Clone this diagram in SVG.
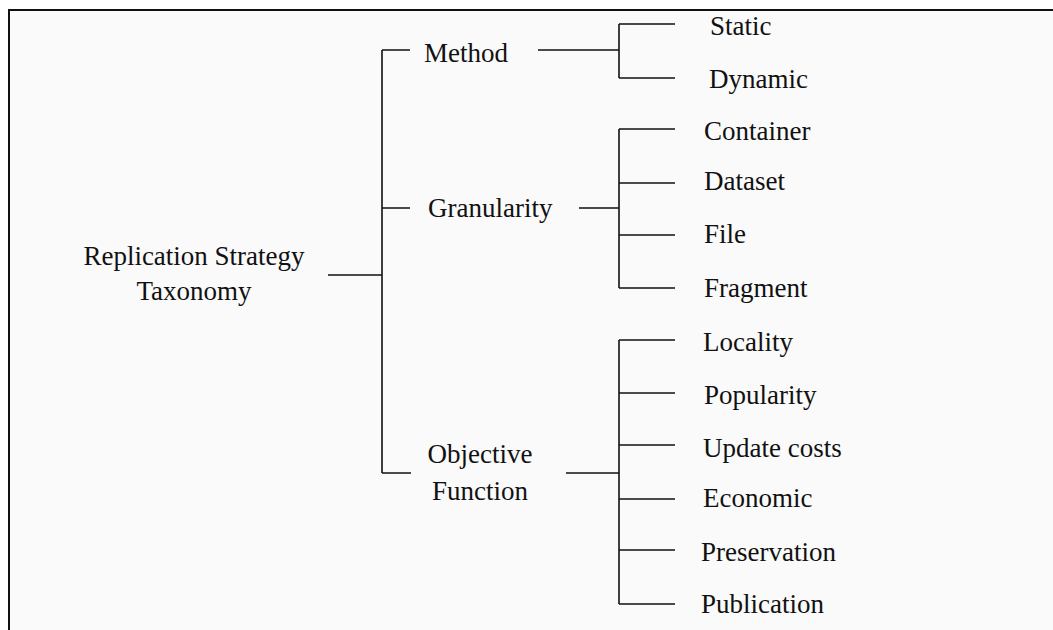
<svg xmlns="http://www.w3.org/2000/svg" width="1053" height="630" viewBox="0 0 1053 630">
  <style>
    .lbl { font-family: "Liberation Serif", "Times New Roman", serif; font-size: 27px; fill: #111; }
    .mid { text-anchor: middle; }
    .ln { stroke: #111; stroke-width: 1.6; fill: none; }
    .frame { stroke: #111; stroke-width: 2; fill: #fafafa; }
  </style>
  <rect width="1053" height="630" fill="#ffffff"/>
  <!-- frame: open on the right and bottom -->
  <rect x="9" y="10" width="1060" height="640" class="frame"/>

  <g id="connectors">
    <!-- root to first level -->
    <path class="ln" d="M328 275 H382 M382 50 V473 M382 50 H410 M382 208 H410 M382 473 H411"/>
    <!-- Method branch -->
    <path class="ln" d="M538 50 H619 M619 24 V78 M619 24 H675 M619 78 H675"/>
    <!-- Granularity branch -->
    <path class="ln" d="M579 208 H619 M619 129 V288 M619 129 H675 M619 183 H675 M619 235 H675 M619 288 H675"/>
    <!-- Objective Function branch -->
    <path class="ln" d="M566 473 H619 M619 340 V604 M619 340 H675 M619 393 H675 M619 445 H675 M619 499 H675 M619 550 H675 M619 604 H675"/>
  </g>

  <g id="root"><text class="lbl mid" x="194" y="265">Replication Strategy</text><text class="lbl mid" x="194" y="300">Taxonomy</text></g>

  <g id="method"><text class="lbl" x="424" y="62">Method</text></g>
  <g id="granularity"><text class="lbl" x="428" y="217">Granularity</text></g>
  <g id="objective"><text class="lbl mid" x="480" y="463">Objective</text><text class="lbl mid" x="480" y="500">Function</text></g>

  <g id="static"><text class="lbl" x="710" y="35">Static</text></g>
  <g id="dynamic"><text class="lbl" x="709" y="88">Dynamic</text></g>

  <g id="container"><text class="lbl" x="704" y="140">Container</text></g>
  <g id="dataset"><text class="lbl" x="704" y="190">Dataset</text></g>
  <g id="file"><text class="lbl" x="704" y="243">File</text></g>
  <g id="fragment"><text class="lbl" x="704" y="297">Fragment</text></g>

  <g id="locality"><text class="lbl" x="703" y="351">Locality</text></g>
  <g id="popularity"><text class="lbl" x="704" y="404">Popularity</text></g>
  <g id="update-costs"><text class="lbl" x="703" y="457">Update costs</text></g>
  <g id="economic"><text class="lbl" x="703" y="507">Economic</text></g>
  <g id="preservation"><text class="lbl" x="701" y="561">Preservation</text></g>
  <g id="publication"><text class="lbl" x="701" y="613">Publication</text></g>
</svg>
